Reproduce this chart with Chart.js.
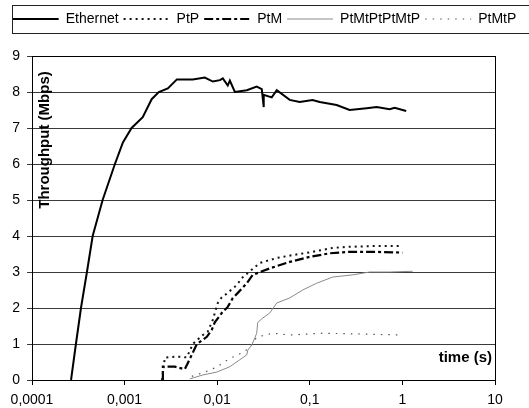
<!DOCTYPE html>
<html>
<head>
<meta charset="utf-8">
<script src="https://cdn.jsdelivr.net/npm/chart.js@4/dist/chart.umd.min.js"></script>
<style>
  html, body { margin: 0; padding: 0; background: #fff; }
  #wrap { width: 529px; height: 408px; }
</style>
</head>
<body>
<div id="wrap"><canvas id="myChart" width="529" height="408"></canvas></div>
<script>
// tick labels / series (time in s, throughput in Mbps)
const xTickValues = [0.0001, 0.001, 0.01, 0.1, 1, 10]
const xTickLabels = ['0,0001', '0,001', '0,01', '0,1', '1', '10']
const seriesNames = ['Ethernet', 'PtP', 'PtM', 'PtMtPtPtMtP', 'PtMtP']

const ethernetX = [0.000264, 0.000298, 0.000338, 0.000392, 0.000452, 0.000579, 0.000786, 0.000959, 0.00119, 0.00157,
  0.00196, 0.00234, 0.00293, 0.00367, 0.00545, 0.00735, 0.00897, 0.0107, 0.0115, 0.013, 0.0137, 0.0155,
  0.0209, 0.0267, 0.0303, 0.0318, 0.0318, 0.0388, 0.044, 0.0607, 0.0778, 0.107, 0.128, 0.195, 0.269,
  0.411, 0.527, 0.728, 0.824, 1.1]
const ethernetY = [0, 1, 2, 3, 4, 5, 6, 6.6, 7, 7.3,
  7.8, 8.0, 8.1, 8.35, 8.35, 8.4, 8.29, 8.33, 8.38, 8.18, 8.32, 8.0,
  8.05, 8.15, 8.08, 7.58, 7.92, 7.85, 8.05, 7.78, 7.72, 7.78, 7.72, 7.64, 7.5,
  7.55, 7.58, 7.52, 7.56, 7.47]

const ptpX = [0.00253, 0.00272, 0.00367, 0.0047, 0.00545, 0.007, 0.00792, 0.00897, 0.0101, 0.0112, 0.0127,
  0.0163, 0.0184, 0.0214, 0.0288, 0.044, 0.0655, 0.107, 0.177, 0.269, 0.477, 1.0]
const ptpY = [0, 0.62, 0.65, 0.63, 1.0, 1.25, 1.35, 1.67, 2.13, 2.3, 2.4,
  2.64, 2.83, 2.97, 3.25, 3.39, 3.47, 3.56, 3.67, 3.7, 3.72, 3.72]

const ptmX = [0.00259, 0.00259, 0.00349, 0.00447, 0.00532, 0.00603, 0.00773, 0.00875, 0.00942, 0.0112, 0.013,
  0.0147, 0.0167, 0.0209, 0.0242, 0.0369, 0.0607, 0.0998, 0.164, 0.269, 0.477, 1.0]
const ptmY = [0, 0.37, 0.37, 0.3, 0.7, 1.0, 1.2, 1.4, 1.6, 1.86, 2.03,
  2.27, 2.42, 2.69, 2.92, 3.1, 3.28, 3.42, 3.52, 3.56, 3.56, 3.54]

const mixX = [0.00506, 0.007, 0.0099, 0.0137, 0.0175, 0.0209, 0.0214, 0.0236, 0.0255, 0.0267, 0.0274,
  0.031, 0.0369, 0.044, 0.0607, 0.0838, 0.119, 0.177, 0.29, 0.443, 0.728, 1.29]
const mixY = [0.03, 0.14, 0.22, 0.37, 0.56, 0.7, 0.83, 0.97, 1.17, 1.3, 1.6,
  1.72, 1.86, 2.14, 2.28, 2.5, 2.69, 2.86, 2.92, 3.0, 3.0, 3.02]

const ptmtpX = [0.00532, 0.00735, 0.0099, 0.0137, 0.0184, 0.0225, 0.0267, 0.0398, 0.0607, 0.138, 0.321, 1.0]
const ptmtpY = [0.1, 0.22, 0.36, 0.6, 0.75, 0.89, 1.19, 1.3, 1.25, 1.3, 1.28, 1.25]

function toPoints(xs, ys) {
  return xs.map((x, i) => ({ x: x, y: ys[i] }))
}

Chart.defaults.font.family = '"Liberation Sans", Arial, sans-serif'
Chart.defaults.color = '#000'

// push the plot down below the boxed legend
const legendMargin = {
  id: 'legendMargin',
  beforeInit(chart) {
    const fit = chart.legend.fit
    chart.legend.fit = function() {
      fit.bind(chart.legend)()
      this.height += 20
    }
  }
}

// frame round plot + legend box + titles inside the plot
const decorations = {
  id: 'decorations',
  afterDraw(chart) {
    const ctx = chart.ctx
    const a = chart.chartArea
    ctx.save()
    ctx.strokeStyle = '#000'
    ctx.lineWidth = 1
    ctx.strokeRect(Math.round(a.left) + 0.5, Math.round(a.top) + 0.5, Math.round(a.right - a.left), Math.round(a.bottom - a.top))
    ctx.strokeStyle = '#222'
    ctx.strokeRect(12.5, 5.5, 520, 28)

    ctx.fillStyle = '#000'
    ctx.font = 'bold 15px "Liberation Sans", Arial, sans-serif'
    ctx.textBaseline = 'middle'
    ctx.textAlign = 'right'
    ctx.fillText('time (s)', a.right - 3, a.bottom - 22)
    ctx.translate(a.left + 13, a.top + 84)
    ctx.rotate(-Math.PI / 2)
    ctx.textAlign = 'center'
    ctx.fillText('Throughput (Mbps)', 0, 0)
    ctx.restore()
  }
}

const chart = document.getElementById('myChart').getContext('2d')
const myChart = new Chart(chart, {
  type: 'scatter',
  data: {
    datasets: [{
      label: seriesNames[0],
      data: toPoints(ethernetX, ethernetY),
      borderColor: '#000',
      borderWidth: 2
    }, {
      label: seriesNames[1],
      data: toPoints(ptpX, ptpY),
      borderColor: '#111',
      borderWidth: 2,
      borderDash: [2, 4]
    }, {
      label: seriesNames[2],
      data: toPoints(ptmX, ptmY),
      borderColor: '#000',
      borderWidth: 2.2,
      borderDash: [9, 3, 3, 3]
    }, {
      label: seriesNames[3],
      data: toPoints(mixX, mixY),
      borderColor: '#8a8a8a',
      borderWidth: 1
    }, {
      label: seriesNames[4],
      data: toPoints(ptmtpX, ptmtpY),
      borderColor: '#555',
      borderWidth: 1.2,
      borderDash: [1.5, 6]
    }]
  },
  options: {
    responsive: false,
    animation: false,
    showLine: true,
    elements: {
      point: { radius: 0, hoverRadius: 0 },
      line: { tension: 0, fill: false }
    },
    layout: { padding: { top: 7, left: 0, right: 0, bottom: 0 } },
    plugins: {
      tooltip: { enabled: false },
      legend: {
        position: 'top',
        labels: {
          usePointStyle: true,
          pointStyle: 'line',
          boxWidth: 46,
          pointStyleWidth: 46,
          padding: 5,
          font: { size: 14 },
          generateLabels(c) {
            return c.data.datasets.map((ds, i) => ({
              text: ds.label,
              datasetIndex: i,
              pointStyle: 'line',
              strokeStyle: ds.borderColor,
              fillStyle: ds.borderColor,
              lineWidth: ds.borderWidth,
              lineDash: ds.borderDash || [],
              fontColor: '#000'
            }))
          }
        }
      }
    },
    scales: {
      x: {
        type: 'logarithmic',
        min: 0.0001,
        max: 10,
        afterBuildTicks(scale) {
          scale.ticks = xTickValues.map(v => ({ value: v }))
        },
        afterFit(scale) { scale.height = 28 },
        ticks: {
          autoSkip: false,
          maxRotation: 0,
          padding: 7,
          font: { size: 14 },
          callback: (v, i) => xTickLabels[i]
        },
        grid: { display: true, drawOnChartArea: false, drawTicks: true, tickLength: 5, color: '#000' },
        border: { display: true, color: '#000', width: 1 }
      },
      y: {
        min: 0,
        max: 9,
        afterFit(scale) { scale.width = 32 },
        ticks: { stepSize: 1, padding: 7, font: { size: 14 } },
        grid: { color: '#3a3a3a', lineWidth: 1, drawTicks: true, tickLength: 5 },
        border: { display: true, color: '#000', width: 1 }
      },
      y2: {
        position: 'right',
        display: true,
        min: 0,
        max: 9,
        afterFit(scale) { scale.width = 34 },
        ticks: { display: false },
        grid: { display: false },
        border: { display: false }
      }
    }
  },
  plugins: [legendMargin, decorations]
})
</script>
</body>
</html>
